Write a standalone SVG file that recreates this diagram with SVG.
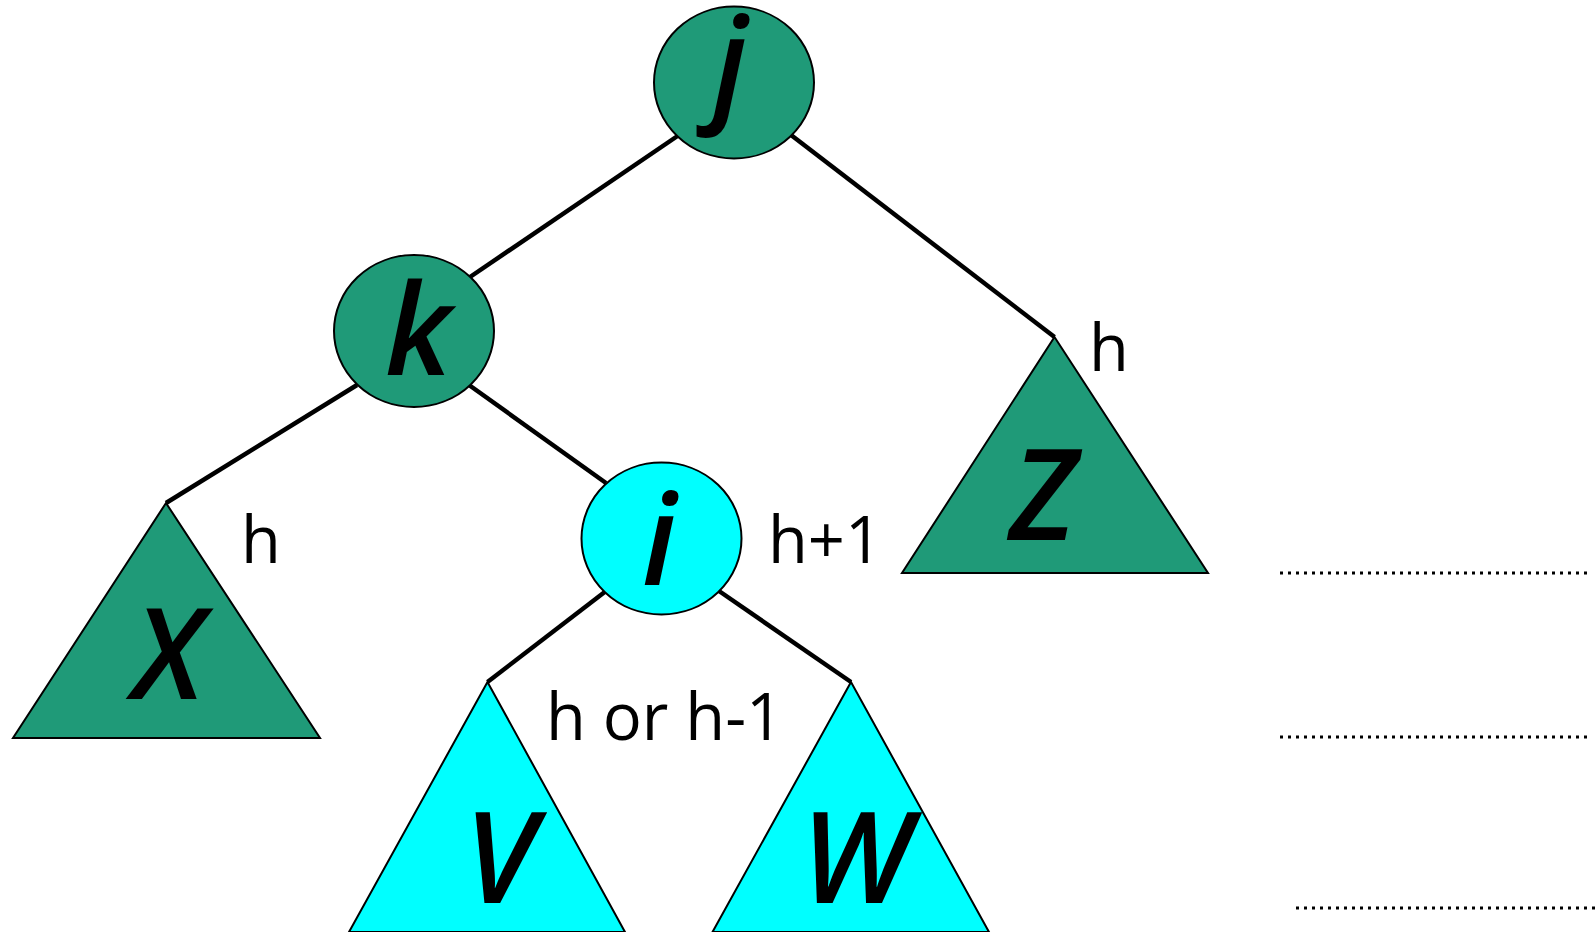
<svg xmlns="http://www.w3.org/2000/svg" width="1596" height="932" viewBox="0 0 1596 932">
<style>
.edge{stroke:#000;stroke-width:4.5;fill:none;stroke-linecap:butt}
.green{fill:#1f9a78;stroke:#000;stroke-width:2}
.cyan{fill:#00ffff;stroke:#000;stroke-width:2}
.letter{font-family:"Open Sans","Noto Sans",sans-serif;font-style:italic;font-weight:600;font-size:126px;fill:#000;text-anchor:middle}
.lbl{font-family:"Open Sans","Noto Sans",sans-serif;font-size:65px;fill:#000}
.dots{stroke:#000;stroke-width:3;stroke-dasharray:3 5;fill:none}
</style>
<rect width="1596" height="932" fill="#fff"/>
<g id="connectors">
<line class="edge" x1="679" y1="135" x2="470" y2="277"/>
<line class="edge" x1="791" y1="135" x2="1054.5" y2="337"/>
<line class="edge" x1="357" y1="385" x2="166" y2="503"/>
<line class="edge" x1="469" y1="385" x2="606" y2="483"/>
<line class="edge" x1="606" y1="591" x2="487.5" y2="682"/>
<line class="edge" x1="719" y1="591" x2="851" y2="682"/>
</g>
<g id="node-j">
<ellipse class="green" cx="734" cy="82.5" rx="80" ry="76"/>
<text class="letter" x="730" y="108">j</text>
</g>
<g id="node-k">
<ellipse class="green" cx="414" cy="331" rx="80" ry="76"/>
<text class="letter" x="418" y="375">k</text>
</g>
<g id="node-i">
<ellipse class="cyan" cx="661.5" cy="538.5" rx="80" ry="76"/>
<text class="letter" x="659" y="585">i</text>
</g>
<g id="tree-X">
<polygon class="green" points="166,503 13,738 320,738"/>
<text class="letter" x="168" y="699">X</text>
</g>
<g id="tree-Z">
<polygon class="green" points="1054.5,337 902,573 1208,573"/>
<text class="letter" x="1043" y="540">Z</text>
</g>
<g id="tree-V">
<polygon class="cyan" points="487.5,682 349,932 625,932"/>
<text class="letter" x="500" y="903">V</text>
</g>
<g id="tree-W">
<polygon class="cyan" points="851,682 712.5,932 989,932"/>
<text class="letter" x="856" y="903">W</text>
</g>
<g id="labels">
<text class="lbl" x="241" y="563">h</text>
<text class="lbl" x="768" y="563">h+1</text>
<text class="lbl" x="1089" y="371">h</text>
<text class="lbl" x="546" y="740">h or h-1</text>
</g>
<g id="levels">
<line class="dots" x1="1280" y1="573" x2="1587" y2="573"/>
<line class="dots" x1="1280" y1="737" x2="1587" y2="737"/>
<line class="dots" x1="1296" y1="908" x2="1596" y2="908"/>
</g>
</svg>
